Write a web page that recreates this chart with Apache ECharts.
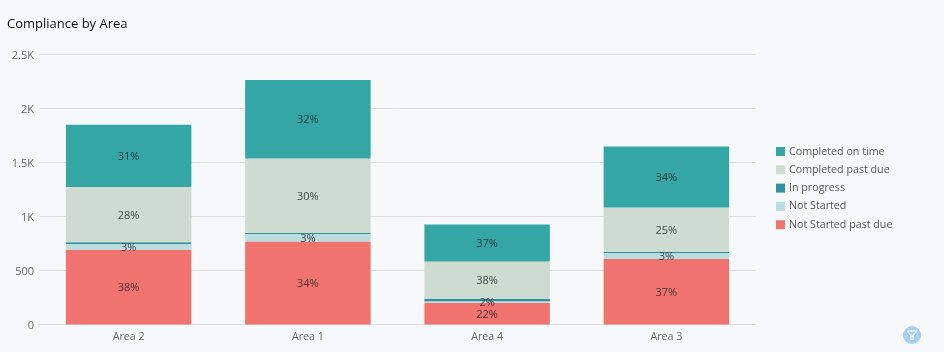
<!DOCTYPE html>
<html>
<head>
<meta charset="utf-8">
<style>html,body{margin:0;padding:0;background:#f7f8fa}#c{width:944px;height:352px}</style>
<script src="https://cdn.jsdelivr.net/npm/echarts@6/dist/echarts.min.js"></script>
</head>
<body>
<div id="c"></div>
<script>
const titleText = "Compliance by Area";
const categories = ["Area 2", "Area 1", "Area 4", "Area 3"];
const notStartedPastDue = [690, 767, 200, 605];
const notStarted = [55, 70, 14, 55];
const inProgress = [15, 8, 22, 10];
const completedPastDue = [510, 690, 346, 411];
const completedOnTime = [575, 725, 343, 564];
const pctNotStartedPastDue = ["38%", "34%", "22%", "37%"];
const pctNotStarted = ["3%", "3%", "2%", "3%"];
const pctCompletedPastDue = ["28%", "30%", "38%", "25%"];
const pctCompletedOnTime = ["31%", "32%", "37%", "34%"];
const yTicks = {0: "0", 500: "500", 1000: "1K", 1500: "1.5K", 2000: "2K", 2500: "2.5K"};
const legendOrder = ["Completed on time", "Completed past due", "In progress", "Not Started", "Not Started past due"];

const FONT = '"Open Sans", sans-serif';
function bar(name, data, color, labels) {
  return {
    name, type: "bar", stack: "total", data, barWidth: "70%",
    itemStyle: {color, borderWidth: 0},
    emphasis: {disabled: true},
    label: labels ? {
      show: true, position: "inside", offset: [0, 1], fontFamily: FONT, fontSize: 11, color: "rgba(30,40,40,0.85)",
      formatter: p => labels[p.dataIndex]
    } : {show: false}
  };
}
const chart = echarts.init(document.getElementById("c"), null, {renderer: "canvas"});
chart.setOption({
  animation: false,
  backgroundColor: "#f7f8fa",
  title: {text: titleText, left: 7, top: 15, padding: 0,
    textStyle: {fontFamily: FONT, fontSize: 13, lineHeight: 18, fontWeight: "normal", color: "#111"}},
  grid: {left: 39, right: 188, top: 54, bottom: 27.5, containLabel: false},
  legend: {
    data: legendOrder, orient: "vertical", left: 776, top: 146, padding: 0,
    itemWidth: 9, itemHeight: 9, itemGap: 7.3, icon: "rect", selectedMode: false,
    itemStyle: {borderWidth: 0},
    textStyle: {fontFamily: FONT, fontSize: 10.7, color: "#555", padding: [0, 0, 0, -1]}
  },
  xAxis: {
    type: "category", data: categories,
    axisLine: {lineStyle: {color: "#dcdde0", width: 1}}, axisTick: {show: false},
    axisLabel: {fontFamily: FONT, fontSize: 10.7, color: "#666", margin: 7}
  },
  yAxis: {
    type: "value", min: 0, max: 2500, interval: 500,
    axisLine: {show: false}, axisTick: {show: false},
    splitLine: {lineStyle: {color: "#dcdde0", width: 1}},
    axisLabel: {fontFamily: FONT, fontSize: 11, color: "#666", margin: 5, verticalAlign: "bottom", lineHeight: 13, padding: [0, 0, -8, 0], formatter: v => yTicks[v]}
  },
  series: [
    bar("Not Started past due", notStartedPastDue, "#f1736f", pctNotStartedPastDue),
    bar("Not Started", notStarted, "#b9dcdc", pctNotStarted),
    bar("In progress", inProgress, "#338fa0", null),
    bar("Completed past due", completedPastDue, "#cddbd0", pctCompletedPastDue),
    bar("Completed on time", completedOnTime, "#34a6a6", pctCompletedOnTime)
  ],
  graphic: [
    {type: "circle", shape: {cx: 912, cy: 335, r: 9}, style: {fill: "#a3d0f4"}, silent: true},
    {type: "polyline", shape: {points: [[907.5, 331], [916.5, 331], [913, 335.5], [913, 339.5], [911, 339.5], [911, 335.5], [907.5, 331]]},
     style: {fill: "none", stroke: "#fff", lineWidth: 1.2}, silent: true}
  ]
});
</script>
</body>
</html>
